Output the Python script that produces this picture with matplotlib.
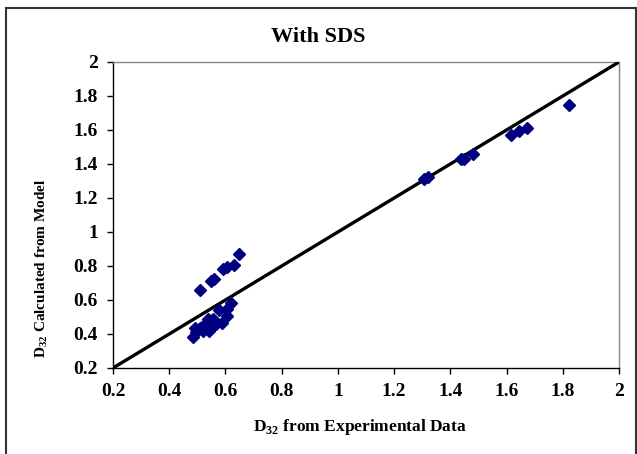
import matplotlib
matplotlib.use("Agg")
import matplotlib.pyplot as plt
from matplotlib.patches import Rectangle

# Experimental vs model D32 values
x_exp = [0.509, 0.550, 0.560, 0.592, 0.604, 0.630, 0.648,
         0.621, 0.604, 0.577, 0.604, 0.586, 0.555, 0.537, 0.550, 0.527,
         0.509, 0.491, 0.497, 0.483, 0.520, 0.565, 0.540,
         1.308, 1.319, 1.438, 1.450, 1.479, 1.615, 1.645, 1.674, 1.822]
y_model = [0.658, 0.710, 0.725, 0.784, 0.792, 0.808, 0.872,
           0.584, 0.545, 0.539, 0.506, 0.467, 0.490, 0.486, 0.438, 0.457,
           0.438, 0.438, 0.409, 0.383, 0.418, 0.460, 0.420,
           1.309, 1.324, 1.431, 1.431, 1.461, 1.573, 1.593, 1.613, 1.747]
line_x = [0.2, 2.0]
line_y = [0.2, 2.0]
ticks = [0.2, 0.4, 0.6, 0.8, 1.0, 1.2, 1.4, 1.6, 1.8, 2.0]
tick_labels = ["0.2", "0.4", "0.6", "0.8", "1", "1.2", "1.4", "1.6", "1.8", "2"]

plt.rcParams['font.family'] = ['Liberation Serif', 'DejaVu Serif']
plt.rcParams['mathtext.fontset'] = 'custom'
plt.rcParams['mathtext.rm'] = 'Liberation Serif:bold'
plt.rcParams['mathtext.bf'] = 'Liberation Serif:bold'

W, H = 637, 454
fig = plt.figure(figsize=(W / 100, H / 100), dpi=100)
ax = fig.add_axes([113 / W, 1 - 368 / H, (619 - 113) / W, (368 - 62) / H])

ax.plot(line_x, line_y, color='black', lw=2.4, solid_capstyle='round', zorder=3)
ax.plot(x_exp, y_model, linestyle='none', marker='D', ms=6.2, color='#000080',
        markeredgecolor='#000080', zorder=4)

ax.set_xlim(0.2, 2.0)
ax.set_ylim(0.2, 2.0)
ax.set_xticks(ticks)
ax.set_xticklabels(tick_labels, fontsize=14, fontweight='bold')
ax.set_yticks(ticks)
ax.set_yticklabels(tick_labels, fontsize=14, fontweight='bold')
ax.tick_params(direction='out', length=4, width=1, pad=7)

for s in ['left', 'bottom']:
    ax.spines[s].set_color('black')
    ax.spines[s].set_linewidth(1.0)
for s in ['top', 'right']:
    ax.spines[s].set_color('#888888')
    ax.spines[s].set_linewidth(1.0)

fig.text(318 / W, 1 - 37 / H, "With SDS", ha='center', va='center',
         fontsize=16, fontweight='bold')
fig.text(360 / W, 1 - 427 / H, r"D$_{32}$ from Experimental Data",
         ha='center', va='center', fontsize=12.5, fontweight='bold')
fig.text(42 / W, 1 - 268 / H, r"D$_{32}$ Calculated from Model",
         ha='center', va='center', fontsize=11, fontweight='bold', rotation=90)

fig.patches.append(Rectangle((6 / W, -0.02), (636 - 6) / W, 1 - 8 / H + 0.02,
                             transform=fig.transFigure, fill=False,
                             edgecolor='#333333', lw=1.5))

fig.savefig("out.png", dpi=100)
